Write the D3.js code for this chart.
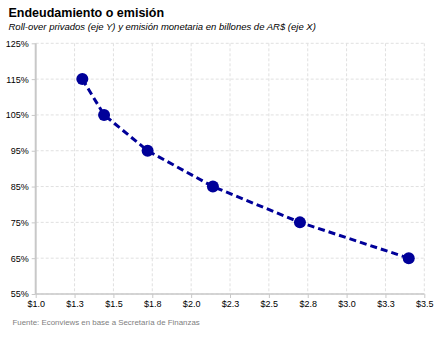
<!DOCTYPE html>
<html><head><meta charset="utf-8">
<script src="https://cdn.jsdelivr.net/npm/d3@7/dist/d3.min.js"></script>
<style>body{margin:0;background:#fff;} svg{display:block;}</style>
</head><body>
<script>
const emision = [1.30, 1.44, 1.72, 2.14, 2.70, 3.40];
const rollover = [115, 105, 95, 85, 75, 65];
const xTicks = [1.0, 1.25, 1.5, 1.75, 2.0, 2.25, 2.5, 2.75, 3.0, 3.25, 3.5];
const xTickLabels = ["$1.0","$1.3","$1.5","$1.8","$2.0","$2.3","$2.5","$2.8","$3.0","$3.3","$3.5"];
const yTicks = [55, 65, 75, 85, 95, 105, 115, 125];
const title = "Endeudamiento o emisión";
const subtitle = "Roll-over privados (eje Y) y emisión monetaria en billones de AR$ (eje X)";
const source = "Fuente: Econviews en base a Secretaría de Finanzas";

const W = 443, H = 338;
const m = {left: 35.7, right: 424.3, top: 43.3, bottom: 294};
const svg = d3.select("body").append("svg").attr("width", W).attr("height", H);
const x = d3.scaleLinear().domain([1.0, 3.5]).range([m.left, m.right]);
const y = d3.scaleLinear().domain([55, 125]).range([m.bottom, m.top]);
const font = "'Liberation Sans', Arial, sans-serif";

svg.append("text").attr("x", 8.5).attr("y", 17).attr("font-family", font)
  .attr("font-weight", "bold").attr("font-size", 12.5).attr("fill", "#000").text(title);
svg.append("text").attr("x", 8.5).attr("y", 30).attr("font-family", font)
  .attr("font-style", "italic").attr("font-size", 9.5).attr("fill", "#000").text(subtitle);

// grid
const g = svg.append("g");
g.selectAll(".hg").data(yTicks).join("line")
  .attr("x1", m.left).attr("x2", m.right).attr("y1", d => y(d)).attr("y2", d => y(d))
  .attr("stroke", "#e0e0e0").attr("stroke-width", 1).attr("stroke-dasharray", "3,2");
g.selectAll(".vg").data(xTicks.slice(1)).join("line")
  .attr("x1", d => x(d)).attr("x2", d => x(d)).attr("y1", m.top).attr("y2", m.bottom)
  .attr("stroke", "#e0e0e0").attr("stroke-width", 1).attr("stroke-dasharray", "3,2");

// axes
const xAxis = d3.axisBottom(x).tickValues(xTicks).tickFormat((d, i) => xTickLabels[i]).tickSize(4).tickPadding(3);
const yAxis = d3.axisLeft(y).tickValues(yTicks).tickFormat(d => d + "%").tickSize(4).tickPadding(3);
const ax = svg.append("g").attr("transform", `translate(0,${m.bottom})`).call(xAxis);
const ay = svg.append("g").attr("transform", `translate(${m.left},0)`).call(yAxis);
[ax, ay].forEach(a => {
  a.select(".domain").attr("stroke", "#c8c8c8").attr("stroke-width", 2);
  a.selectAll(".tick line").attr("stroke", "#c8c8c8");
  a.selectAll(".tick text").attr("font-family", font).attr("font-size", 9).attr("fill", "#000");
});
ax.select(".domain").attr("d", `M${m.left},0H${m.right}`).attr("stroke-width", 1.5);
ay.select(".domain").attr("d", `M0,${y(125)}V${y(55)}`);

// line
const pts = emision.map((v, i) => [v, rollover[i]]);
svg.append("path").datum(pts)
  .attr("d", d3.line().x(d => x(d[0])).y(d => y(d[1])))
  .attr("fill", "none").attr("stroke", "#000099").attr("stroke-width", 3)
  .attr("stroke-dasharray", "7,4");
svg.selectAll(".pt").data(pts).join("circle")
  .attr("cx", d => x(d[0])).attr("cy", d => y(d[1])).attr("r", 6)
  .attr("fill", "#000099");

svg.append("text").attr("x", 12.5).attr("y", 325).attr("font-family", font)
  .attr("font-size", 7.9).attr("fill", "#808080").text(source);
</script>
</body></html>
